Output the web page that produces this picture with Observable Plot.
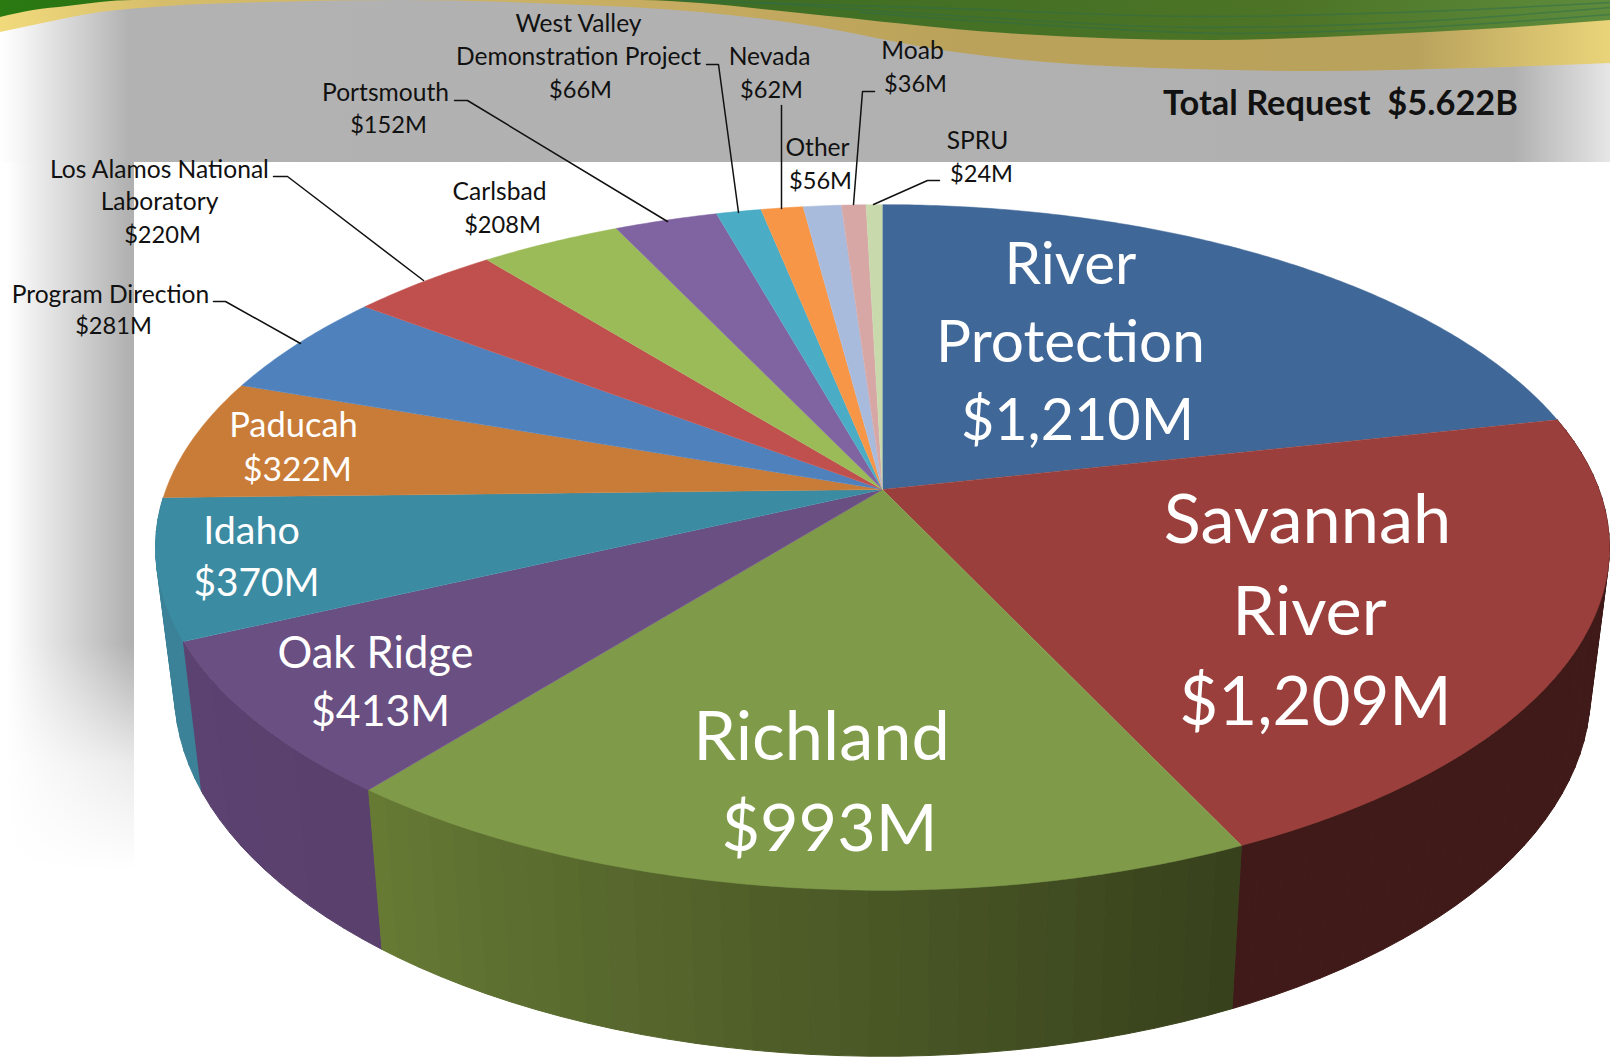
<!DOCTYPE html>
<html>
<head>
<meta charset="utf-8">
<script src="https://cdn.jsdelivr.net/npm/d3@7"></script>
<script src="https://cdn.jsdelivr.net/npm/@observablehq/plot@0.6"></script>
<style>
html,body{margin:0;padding:0;background:#fff;overflow:hidden}
svg{display:block}
</style>
</head>
<body>
<div id="chart"></div>
<script>
// ---------- data ----------
const categories = ["River Protection","Savannah River","Richland","Oak Ridge","Idaho","Paducah","Program Direction","Los Alamos National Laboratory","Carlsbad","Portsmouth","West Valley Demonstration Project","Nevada","Other","Moab","SPRU"];
const values = [1210,1209,993,413,370,322,281,220,208,152,66,62,56,36,24];
const topColors = ["#3F6797","#9A3F3B","#7F9A48","#6A4F82","#3B8BA3","#C97C37","#4F81BD","#C0504D","#9BBB59","#8064A2","#4BACC6","#F79646","#A9BBDD","#D7A7A6","#C8D9AC"];
const sideStart = [null,"#3F1A18","#37411C","#5A406C","#3B8298"];
const sideEnd   = [null,"#3F1A18","#677B35","#5B4271","#3B8298"];
const labelLines = [
  ["River","Protection","$1,210M"],
  ["Savannah","River","$1,209M"],
  ["Richland","$993M"],
  ["Oak Ridge","$413M"],
  ["Idaho","$370M"],
  ["Paducah","$322M"],
  ["Program Direction","$281M"],
  ["Los Alamos National","Laboratory","$220M"],
  ["Carlsbad","$208M"],
  ["Portsmouth","$152M"],
  ["West Valley","Demonstration Project","$66M"],
  ["Nevada","$62M"],
  ["Other","$56M"],
  ["Moab","$36M"],
  ["SPRU","$24M"]
];
const totalLabel = "Total Request  $5.622B";

// ---------- layout (page pixels) ----------
const W = 1610, H = 1057;
const cx = 882, cy = 489, R = 716.5, Hy = 333, k = 0.169;
const lowX = 0.974, lowY = 1.065, drop = 140;
const labelPlace = [
  {size:58.5, money:57.5, fill:"#fff", at:[[1070,265],[1070,343],[1077,421]]},
  {size:68.5, money:67.2, fill:"#fff", at:[[1307,521],[1309,613],[1315,703]]},
  {size:68.5, money:66.5, fill:"#fff", at:[[821,738],[829,829]]},
  {size:43.5, money:42.8, fill:"#fff", at:[[375,654],[380,712]]},
  {size:39.5, money:38.8, fill:"#fff", at:[[251,531],[256,583]]},
  {size:34.5, money:33.6, fill:"#fff", at:[[293,425],[297,470]]},
  {size:24.6, money:23.6, fill:"#111", at:[[110,295],[113,326]]},
  {size:24.6, money:23.6, fill:"#111", at:[[159,170],[159,202],[162,235]]},
  {size:24.6, money:23.6, fill:"#111", at:[[499,192],[502,225]]},
  {size:24.6, money:23.6, fill:"#111", at:[[385,93],[388,125]]},
  {size:24.6, money:23.6, fill:"#111", at:[[578,24],[578,57],[580,90]]},
  {size:24.6, money:23.6, fill:"#111", at:[[769,57],[771,90]]},
  {size:24.6, money:23.6, fill:"#111", at:[[817,148],[820,181]]},
  {size:24.6, money:23.6, fill:"#111", at:[[912,51],[915,84]]},
  {size:24.6, money:23.6, fill:"#111", at:[[977,141],[981,174]]}
];
const leaders = [
  [[213,301],[225,301],[300,343]],
  [[273,176],[287,176],[423,280]],
  [[454,100],[467,100],[667,221]],
  [[706,64],[718,64],[738,212]],
  [[781,105],[781,208]],
  [[874,91],[862,91],[853,204]],
  [[939,180],[927,180],[873,204]]
];
const FONT = "Lato, Carlito, Calibri, sans-serif";

// ---------- pie geometry from the values ----------
const arcs = d3.pie().sort(null).startAngle(0).endAngle(2*Math.PI)(values);
const topPt = a => {
  const u = Math.sin(a), v = Math.cos(a), w = 1 + k*v;
  return {X: cx + R*u/w, Y: cy - Hy*v/w, v};
};
const lowPt = a => {
  const p = topPt(a);
  return {X: cx + lowX*(p.X-cx), Y: cy + drop + lowY*(p.Y-cy), v:p.v};
};
const STEP = Math.PI/360;
const samples = (a0,a1,step) => d3.range(a0,a1,step).concat([a1]);

const topRows = arcs.flatMap((s,i) => [
  {x:cx,y:cy,z:i,c:topColors[i]},
  ...samples(s.startAngle,s.endAngle,STEP).map(a => { const p=topPt(a); return {x:p.X,y:p.Y,z:i,c:topColors[i]}; })
]);

// side wall: strips, drawn far to near
const SIDE_STEP = Math.PI/90;
const strips = [];
arcs.forEach((s,i) => {
  if (!sideStart[i]) return;
  const shade = d3.interpolateRgb(sideStart[i], sideEnd[i]);
  const as = samples(s.startAngle,s.endAngle,SIDE_STEP);
  for (let j=0;j<as.length-1;j++) {
    const a=as[j], b=as[j+1];
    strips.push({a,b,c:shade((a-s.startAngle)/(s.endAngle-s.startAngle)),v:Math.cos((a+b)/2)});
  }
});
strips.sort((p,q)=>q.v-p.v);
const sideRows = strips.flatMap((st,n) => {
  const A=topPt(st.a),B=topPt(st.b),C=lowPt(st.b),D=lowPt(st.a);
  return [A,B,C,D,A].map(p=>({x:p.X,y:p.Y,z:n,c:st.c}));
});

const textRows = labelLines.flatMap((lines,i)=>lines.map((t,j)=>({
  t, x:labelPlace[i].at[j][0], y:labelPlace[i].at[j][1],
  size:t.startsWith("$") ? labelPlace[i].money : labelPlace[i].size, fill:labelPlace[i].fill
})));
const leaderRows = leaders.flatMap((l,i)=>l.map(p=>({x:p[0],y:p[1],z:i})));

// ---------- backdrop ----------
const goldEdge  = [[0,32],[33,25],[100,12],[167,6],[267,2],[400,0],[560,4],[700,12],[800,24],[955,52],[1058,63],[1190,69],[1316,71],[1471,68],[1610,63]];
const greenEdge = [[0,17],[33,10],[67,6],[133,0],[640,0],[700,3],[800,13],[1006,33],[1213,40],[1368,35],[1500,28],[1610,20]];
const stripes = [
  [[760,2],[1000,18],[1200,27],[1400,22],[1610,7]],
  [[860,12],[1050,25],[1230,33],[1420,27],[1610,14]],
  [[680,0],[950,8],[1200,16],[1400,12],[1610,2]]
];
const defs = () => {
  const d = d3.create("svg:defs");
  d.html(`
  <linearGradient id="band" x1="0" x2="1" y1="0" y2="0">
    <stop offset="0" stop-color="#ffffff"/><stop offset="0.012" stop-color="#f6f6f6"/>
    <stop offset="0.08" stop-color="#b2b2b2"/><stop offset="0.94" stop-color="#b0b0b0"/>
    <stop offset="1" stop-color="#e6e6e6"/>
  </linearGradient>
  <linearGradient id="col" x1="0" x2="1" y1="0" y2="0">
    <stop offset="0.05" stop-color="#ffffff"/><stop offset="0.95" stop-color="#b2b2b2"/><stop offset="1" stop-color="#b0b0b0"/>
  </linearGradient>
  <linearGradient id="fade" x1="0" x2="0" y1="0" y2="1">
    <stop offset="0.68" stop-color="#fff" stop-opacity="0"/><stop offset="0.85" stop-color="#fff" stop-opacity="0.75"/><stop offset="1" stop-color="#fff" stop-opacity="1"/>
  </linearGradient>
  <linearGradient id="gold" x1="0" x2="1" y1="0" y2="0">
    <stop offset="0" stop-color="#F1DA7C"/><stop offset="0.1" stop-color="#D6BD6B"/>
    <stop offset="0.6" stop-color="#BBA25A"/><stop offset="0.88" stop-color="#B9A25C"/>
    <stop offset="1" stop-color="#EAD47A"/>
  </linearGradient>
  <linearGradient id="green" x1="0" x2="1" y1="0" y2="0">
    <stop offset="0" stop-color="#2A7A12"/><stop offset="0.1" stop-color="#2C6F14"/>
    <stop offset="0.45" stop-color="#3E6E24"/><stop offset="0.8" stop-color="#4D7426"/>
    <stop offset="1" stop-color="#5E8C3C"/>
  </linearGradient>`);
  return d.node();
};
const rect = (x1,x2,y1,y2,fill) => Plot.rect([0],{x1:()=>x1,x2:()=>x2,y1:()=>y1,y2:()=>y2,fill,inset:0});

const chart = Plot.plot({
  width:W, height:H, margin:0,
  x:{domain:[0,W], range:[0,W], axis:null},
  y:{domain:[0,H], range:[0,H], axis:null},
  color:{type:"identity"},
  style:{background:"#fff", fontFamily:FONT},
  marks:[
    defs,
    rect(0,W,0,162,"url(#band)"),
    rect(0,134,162,870,"url(#col)"),
    rect(0,134,162,870,"url(#fade)"),
    Plot.areaY(goldEdge,{x:d=>d[0],y1:()=>0,y2:d=>d[1],fill:"url(#gold)",curve:"monotone-x"}),
    Plot.areaY(greenEdge,{x:d=>d[0],y1:()=>0,y2:d=>d[1],fill:"url(#green)",curve:"monotone-x"}),
    stripes.map(s=>Plot.line(s,{x:d=>d[0],y:d=>d[1],stroke:"#2C6B50",strokeWidth:1.4,strokeOpacity:0.5,curve:"monotone-x"})),
    Plot.line(sideRows,{x:"x",y:"y",z:"z",fill:"c",stroke:"c",strokeWidth:1}),
    Plot.line(topRows,{x:"x",y:"y",z:"z",fill:"c",stroke:"c",strokeWidth:0.5}),
    Plot.line(leaderRows,{x:"x",y:"y",z:"z",stroke:"#111",strokeWidth:1.5,strokeLinejoin:"miter"}),
    Plot.text(textRows,{x:"x",y:"y",text:"t",fontSize:"size",fill:"fill",fontFamily:FONT}),
    Plot.text([totalLabel],{x:()=>1340,y:()=>103,text:d=>d,fontSize:34.4,fontWeight:700,fill:"#111",fontFamily:FONT})
  ]
});
document.getElementById("chart").appendChild(chart);
</script>
</body>
</html>
